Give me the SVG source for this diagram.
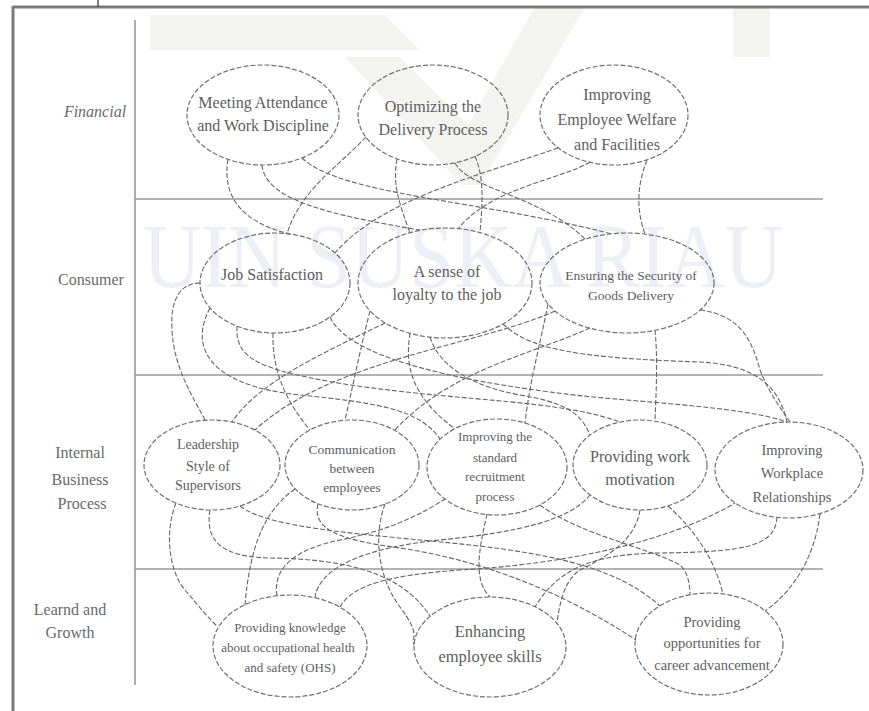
<svg xmlns="http://www.w3.org/2000/svg" width="869" height="711" viewBox="0 0 869 711">
<style>
.node ellipse{fill:none;stroke:#707070;stroke-width:1.2;stroke-dasharray:5 2}
.t{font-family:"Liberation Serif","Times New Roman",serif;fill:#5e5e5e;text-anchor:middle}
.lane{font-family:"Liberation Serif","Times New Roman",serif;fill:#6a6a6a;text-anchor:middle;font-size:16px}
#connectors path{fill:none;stroke:#666;stroke-width:1.1;stroke-dasharray:5 2}
.axis{stroke:#9a9a9a;stroke-width:1.6}
.wm{fill:#f3f3f1}
</style>
<rect x="0" y="0" width="869" height="711" fill="#fff"/>
<g id="watermark">
<polygon class="wm" points="150,15 385,15 420,50 150,50"/>
<polygon class="wm" points="345,57 400,57 468,125 535,7 585,7 480,185 462,185"/>
<rect class="wm" x="733" y="7" width="37" height="50"/>
<text x="143" y="287" font-family="Liberation Serif,serif" font-size="92" fill="#eeeef7" textLength="640" lengthAdjust="spacingAndGlyphs">UIN SUSKA RIAU</text>
</g>
<g id="frame">
<line x1="13" y1="7" x2="869" y2="7" stroke="#7a7a7a" stroke-width="3"/>
<line x1="13" y1="6" x2="13" y2="711" stroke="#7a7a7a" stroke-width="3"/>
<line x1="98" y1="0" x2="98" y2="7" stroke="#555" stroke-width="1.5"/>
<line class="axis" x1="135" y1="20" x2="135" y2="685"/>
<line class="axis" x1="135" y1="199" x2="823" y2="199"/>
<line class="axis" x1="135" y1="375" x2="823" y2="375"/>
<line class="axis" x1="135" y1="569" x2="823" y2="569" stroke-width="2.4"/>
</g>
<g id="lanes">
<text class="lane" x="95" y="117" font-style="italic">Financial</text>
<text class="lane" x="91" y="285" font-size="17">Consumer</text>
<text class="lane" x="80" y="458">Internal</text>
<text class="lane" x="80" y="485">Business</text>
<text class="lane" x="82" y="509">Process</text>
<text class="lane" x="70" y="615">Learnd and</text>
<text class="lane" x="70" y="638">Growth</text>
</g>
<g id="connectors">
<path d="M228,159 C222,195 240,222 290,234"/>
<path d="M262,165 C265,200 330,215 420,230"/>
<path d="M302,158 C340,195 480,200 612,234"/>
<path d="M366,137 C340,165 300,190 287,234"/>
<path d="M397,159 C392,185 400,205 410,233"/>
<path d="M475,156 C485,180 482,205 480,233"/>
<path d="M558,148 C480,175 380,200 335,253"/>
<path d="M590,162 C560,180 490,188 458,229"/>
<path d="M647,160 C635,190 638,215 645,234"/>
<path d="M455,163 C470,190 540,195 585,239"/>
<path d="M200,283 C180,283 170,300 172,330 C174,370 195,400 205,420"/>
<path d="M210,308 C190,345 205,385 300,395 C380,403 420,410 440,439"/>
<path d="M237,326 C235,360 260,370 350,385 C470,402 560,400 620,422"/>
<path d="M273,333 C272,370 285,400 310,430"/>
<path d="M330,317 C345,350 420,375 550,392 C620,402 740,405 787,422"/>
<path d="M385,323 C330,350 260,380 232,422"/>
<path d="M555,311 C480,345 330,360 255,430"/>
<path d="M370,311 C360,350 352,390 345,420"/>
<path d="M410,333 C405,365 410,395 455,429"/>
<path d="M430,337 C440,370 480,388 520,395 C560,402 580,410 590,435"/>
<path d="M503,324 C530,350 580,358 700,362 C760,365 780,390 787,422"/>
<path d="M590,328 C530,355 450,370 395,430"/>
<path d="M548,304 C540,345 530,380 525,423"/>
<path d="M655,330 C658,360 656,395 655,421"/>
<path d="M700,310 C740,315 752,340 760,370 C770,395 782,410 790,422"/>
<path d="M176,503 C165,530 168,570 185,590 C198,605 208,618 218,627"/>
<path d="M210,510 C205,540 220,557 270,558 C340,559 400,570 430,616"/>
<path d="M240,506 C270,530 380,535 470,545 C560,555 620,570 660,606"/>
<path d="M295,489 C265,510 250,545 245,605"/>
<path d="M318,504 C312,530 340,540 400,548 C480,560 560,590 636,640"/>
<path d="M277,596 C272,565 300,548 340,540 C390,530 420,515 445,499"/>
<path d="M315,598 C318,570 360,548 440,540 C520,532 570,520 590,495"/>
<path d="M340,607 C352,585 390,575 460,570 C600,562 690,530 735,503"/>
<path d="M385,504 C372,540 380,580 400,607 S412,635 414,645"/>
<path d="M487,514 C480,545 472,580 490,597"/>
<path d="M540,505 C580,535 650,548 680,565 C688,572 690,585 690,595"/>
<path d="M640,510 C635,540 610,555 580,570 C565,580 560,600 557,623"/>
<path d="M668,506 C695,530 715,560 723,594"/>
<path d="M777,517 C775,545 750,552 660,553 C600,554 560,565 535,607"/>
<path d="M820,514 C815,555 795,590 765,611"/>
</g>
<g id="n1" class="node"><ellipse cx="263" cy="115" rx="76" ry="50"/><text class="t" x="263" y="108" font-size="16">Meeting Attendance</text><text class="t" x="263" y="131" font-size="16">and Work Discipline</text></g>
<g id="n2" class="node"><ellipse cx="433" cy="115" rx="75" ry="50"/><text class="t" x="433" y="112" font-size="16">Optimizing the</text><text class="t" x="433" y="135" font-size="16">Delivery Process</text></g>
<g id="n3" class="node"><ellipse cx="614" cy="115" rx="74" ry="50"/><text class="t" x="617" y="100" font-size="16">Improving</text><text class="t" x="617" y="125" font-size="16">Employee Welfare</text><text class="t" x="617" y="150" font-size="16">and Facilities</text></g>
<g id="n4" class="node"><ellipse cx="275" cy="283" rx="75" ry="50"/><text class="t" x="272" y="280" font-size="16">Job Satisfaction</text></g>
<g id="n5" class="node"><ellipse cx="445" cy="283" rx="87" ry="55"/><text class="t" x="447" y="277" font-size="16">A sense of</text><text class="t" x="447" y="300" font-size="16">loyalty to the job</text></g>
<g id="n6" class="node"><ellipse cx="627" cy="283" rx="87" ry="50"/><text class="t" x="631" y="280" font-size="13.5">Ensuring the Security of</text><text class="t" x="631" y="300" font-size="13.5">Goods Delivery</text></g>
<g id="n7" class="node"><ellipse cx="212" cy="465" rx="68" ry="45"/><text class="t" x="208" y="449" font-size="14">Leadership</text><text class="t" x="208" y="471" font-size="14">Style of</text><text class="t" x="208" y="490" font-size="14">Supervisors</text></g>
<g id="n8" class="node"><ellipse cx="352" cy="465" rx="67" ry="45"/><text class="t" x="352" y="454" font-size="13.5">Communication</text><text class="t" x="352" y="473" font-size="13.5">between</text><text class="t" x="352" y="492" font-size="13.5">employees</text></g>
<g id="n9" class="node"><ellipse cx="497" cy="467" rx="70" ry="48"/><text class="t" x="495" y="441" font-size="13">Improving the</text><text class="t" x="495" y="462" font-size="13">standard</text><text class="t" x="495" y="481" font-size="13">recruitment</text><text class="t" x="495" y="501" font-size="13">process</text></g>
<g id="n10" class="node"><ellipse cx="640" cy="465" rx="67" ry="45"/><text class="t" x="640" y="462" font-size="16">Providing work</text><text class="t" x="640" y="485" font-size="16">motivation</text></g>
<g id="n11" class="node"><ellipse cx="789" cy="470" rx="74" ry="48"/><text class="t" x="792" y="455" font-size="14.5">Improving</text><text class="t" x="792" y="478" font-size="14.5">Workplace</text><text class="t" x="792" y="502" font-size="14.5">Relationships</text></g>
<g id="n12" class="node"><ellipse cx="290" cy="646" rx="77" ry="51"/><text class="t" x="290" y="632" font-size="13">Providing knowledge</text><text class="t" x="288" y="652" font-size="13">about occupational health</text><text class="t" x="290" y="672" font-size="13">and safety (OHS)</text></g>
<g id="n13" class="node"><ellipse cx="490" cy="647" rx="76" ry="50"/><text class="t" x="490" y="637" font-size="16.5">Enhancing</text><text class="t" x="490" y="662" font-size="16.5">employee skills</text></g>
<g id="n14" class="node"><ellipse cx="709" cy="644" rx="74" ry="51"/><text class="t" x="712" y="627" font-size="14.5">Providing</text><text class="t" x="712" y="648" font-size="14.5">opportunities for</text><text class="t" x="712" y="670" font-size="14.5">career advancement</text></g>
</svg>
